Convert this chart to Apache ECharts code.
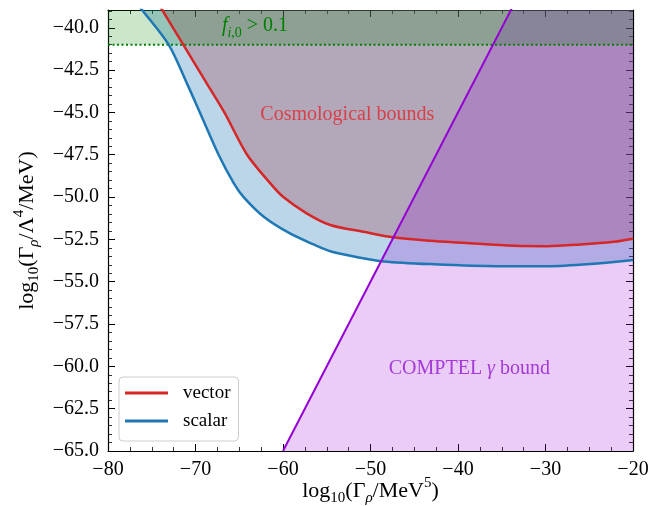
<!DOCTYPE html>
<html>
<head>
<meta charset="utf-8">
<script src="https://cdn.jsdelivr.net/npm/echarts@6/dist/echarts.min.js"></script>
<style>
  html, body { margin: 0; padding: 0; background: #ffffff; }
  #chart { width: 667px; height: 506px; }
</style>
</head>
<body>
<div id="chart"></div>
<script>
// Axis ranges: log10(Γρ/MeV^5) horizontally, log10(Γρ/Λ^4/MeV) vertically
const xMin = -80, xMax = -20, xStep = 10;
const yMin = -65, yMax = -38.95, yStep = 2.5;

// Vector mediator: cosmological bound (excluded above the curve)
const vectorX = [-75.5, -73.8, -71.4, -68.7, -66.7, -64.1, -61.45, -59.96, -57.3, -54.6, -50.8, -47.4, -43.2, -39.4, -33.6, -29.8, -26.0, -22.2, -20.0];
const vectorY = [-37.5, -38.95, -41.0, -43.3, -45.0, -47.5, -49.19, -50.0, -50.96, -51.65, -52.05, -52.38, -52.58, -52.70, -52.88, -52.90, -52.80, -52.64, -52.46];

// Scalar mediator: cosmological bound (excluded above the curve)
const scalarX = [-78.0, -76.1, -73.07, -70.97, -69.5, -67.36, -65.6, -64.5, -62.2, -59.2, -56.5, -54.6, -51.5, -48.5, -43.2, -35.5, -29.8, -24.1, -20.0];
const scalarY = [-37.7, -38.95, -41.0, -43.3, -45.0, -47.5, -49.2, -50.0, -51.16, -52.15, -52.8, -53.2, -53.55, -53.8, -53.96, -54.08, -54.08, -53.92, -53.72];

// COMPTEL gamma-ray bound (excluded below/right of the line)
const comptelX = [-60, -20];
const comptelY = [-65, -25];

// Initial abundance threshold f_{i,0} > 0.1
const fracX = [-80, -20];
const fracY = [-41, -41];

const C_RED = '#d62728', C_BLUE = '#1f77b4', C_VIOLET = '#9400d3', C_GREEN = '#008000';
const FONT = "'Liberation Serif', 'DejaVu Serif', serif";

const pairs = (xs, ys) => xs.map((x, i) => [x, ys[i]]);
const minus = s => s.replace('-', '\u2212');

const mathRich = {
  n:    { fontFamily: FONT, fontSize: 22, lineHeight: 30, verticalAlign: 'middle', color: '#000' },
  sub:  { fontFamily: FONT, fontSize: 15, lineHeight: 15, verticalAlign: 'bottom', color: '#000' },
  subi: { fontFamily: FONT, fontSize: 15, lineHeight: 15, verticalAlign: 'bottom', fontStyle: 'italic', color: '#000' },
  sup:  { fontFamily: FONT, fontSize: 15, lineHeight: 17, verticalAlign: 'top', color: '#000' }
};

function areaSeries(name, data, color, opacity, origin, smooth) {
  return {
    name, type: 'line', data, smooth, showSymbol: false, silent: true,
    lineStyle: { width: 0, opacity: 0 },
    itemStyle: { color },
    areaStyle: { color, opacity, origin },
    clip: true, z: 2
  };
}
function lineSeries(name, data, color, width, type, smooth) {
  return {
    name, type: 'line', data, smooth, showSymbol: false, silent: true,
    lineStyle: { color, width, type },
    itemStyle: { color },
    clip: true, z: 5
  };
}

const axisCommon = {
  type: 'value',
  axisLine: { show: true, onZero: false, lineStyle: { color: '#000', width: 1.2 } },
  axisTick: { show: true, inside: true, length: 7, lineStyle: { color: '#000', width: 1 } },
  minorTick: { show: true, length: 4, lineStyle: { color: '#000', width: 0.8 } },
  splitLine: { show: false }
};

const chart = echarts.init(document.getElementById('chart'), null, { renderer: 'canvas' });

const option = {
  animation: false,
  backgroundColor: '#ffffff',
  grid: { left: 108, right: 34, top: 10, bottom: 55, outerBoundsMode: 'none', containLabel: false },
  xAxis: [
    Object.assign({}, axisCommon, {
      position: 'bottom', min: xMin, max: xMax, interval: xStep,
      minorTick: Object.assign({}, axisCommon.minorTick, { splitNumber: 4 }),
      axisLabel: { fontFamily: FONT, fontSize: 20, color: '#000', margin: 9,
                   formatter: v => minus(String(v)) },
      name: '{n|log}{sub|10}{n|(Γ}{subi|ρ}{n|/MeV}{sup|5}{n|)}',
      nameLocation: 'middle', nameGap: 25, nameMoveOverlap: false,
      nameTextStyle: { rich: mathRich }
    }),
    Object.assign({}, axisCommon, {
      position: 'top', min: xMin, max: xMax, interval: xStep,
      minorTick: Object.assign({}, axisCommon.minorTick, { splitNumber: 4 }),
      axisLabel: { show: false }
    })
  ],
  yAxis: [
    Object.assign({}, axisCommon, {
      position: 'left', min: yMin, max: yMax, interval: yStep,
      minorTick: Object.assign({}, axisCommon.minorTick, { splitNumber: 5 }),
      axisLabel: { fontFamily: FONT, fontSize: 20, color: '#000', margin: 9, showMaxLabel: false,
                   formatter: v => minus(v.toFixed(1)) },
      name: '{n|log}{sub|10}{n|(Γ}{subi|ρ}{n|/Λ}{sup|4}{n|/MeV)}',
      nameLocation: 'middle', nameGap: 66, nameRotate: 90, nameMoveOverlap: false,
      nameTextStyle: { rich: mathRich }
    }),
    Object.assign({}, axisCommon, {
      position: 'right', min: yMin, max: yMax, interval: yStep,
      minorTick: Object.assign({}, axisCommon.minorTick, { splitNumber: 5 }),
      axisLabel: { show: false }
    })
  ],
  legend: {
    data: ['vector', 'scalar'],
    orient: 'vertical', left: 119, top: 377,
    padding: [5, 8, 9, 6], itemGap: 6,
    itemWidth: 43, itemHeight: 3, icon: 'rect',
    backgroundColor: 'rgba(255,255,255,0.8)',
    borderColor: '#cccccc', borderWidth: 1, borderRadius: 4,
    textStyle: { fontFamily: FONT, fontSize: 19, color: '#000', padding: [0, 0, 0, 10], lineHeight: 22 },
    selectedMode: false
  },
  series: [
    areaSeries('vector region', pairs(vectorX, vectorY), C_RED, 0.3, 'end', 0.3),
    areaSeries('scalar region', pairs(scalarX, scalarY), C_BLUE, 0.3, 'end', 0.3),
    areaSeries('COMPTEL region', pairs(comptelX, comptelY), C_VIOLET, 0.2, 'start', false),
    areaSeries('abundance region', pairs(fracX, fracY), C_GREEN, 0.2, 'end', false),
    lineSeries('scalar', pairs(scalarX, scalarY), C_BLUE, 2.5, 'solid', 0.3),
    lineSeries('vector', pairs(vectorX, vectorY), C_RED, 2.5, 'solid', 0.3),
    lineSeries('COMPTEL', pairs(comptelX, comptelY), C_VIOLET, 2, 'solid', false),
    Object.assign(lineSeries('abundance', pairs(fracX, fracY), C_GREEN, 2, [2, 2.5], false), { z: 4 })
  ]
};
chart.setOption(option);

// Region annotations, anchored in data coordinates
const toPx = (x, y) => chart.convertToPixel({ xAxisIndex: 0, yAxisIndex: 0 }, [x, y]);
const annot = (x, y, text, rich) => {
  const p = toPx(x, y);
  return { type: 'text', x: p[0], y: p[1], z: 20, silent: true,
           style: { text, rich, align: 'center', verticalAlign: 'middle' } };
};
const greenRich = {
  fi:   { fontFamily: FONT, fontSize: 20, lineHeight: 28, verticalAlign: 'middle', fontStyle: 'italic', fill: C_GREEN },
  subi: { fontFamily: FONT, fontSize: 14, lineHeight: 14, verticalAlign: 'bottom', fontStyle: 'italic', fill: C_GREEN },
  sub:  { fontFamily: FONT, fontSize: 14, lineHeight: 14, verticalAlign: 'bottom', fill: C_GREEN },
  n:    { fontFamily: FONT, fontSize: 20, lineHeight: 28, verticalAlign: 'middle', fill: C_GREEN }
};
const cosmoRich = { n: { fontFamily: FONT, fontSize: 20, lineHeight: 24, fill: '#d8414a' } };
const comptelRich = {
  n: { fontFamily: FONT, fontSize: 20, lineHeight: 24, fill: '#a43ad8' },
  g: { fontFamily: FONT, fontSize: 20, lineHeight: 24, fontStyle: 'italic', fill: '#a43ad8' }
};
chart.setOption({
  graphic: [
    annot(-63.2, -39.9, '{fi|f}{subi|i}{sub|,0}{n| > 0.1}', greenRich),
    annot(-52.65, -45.15, '{n|Cosmological bounds}', cosmoRich),
    annot(-38.7, -60.15, '{n|COMPTEL }{g|γ}{n| bound}', comptelRich)
  ]
});
</script>
</body>
</html>
